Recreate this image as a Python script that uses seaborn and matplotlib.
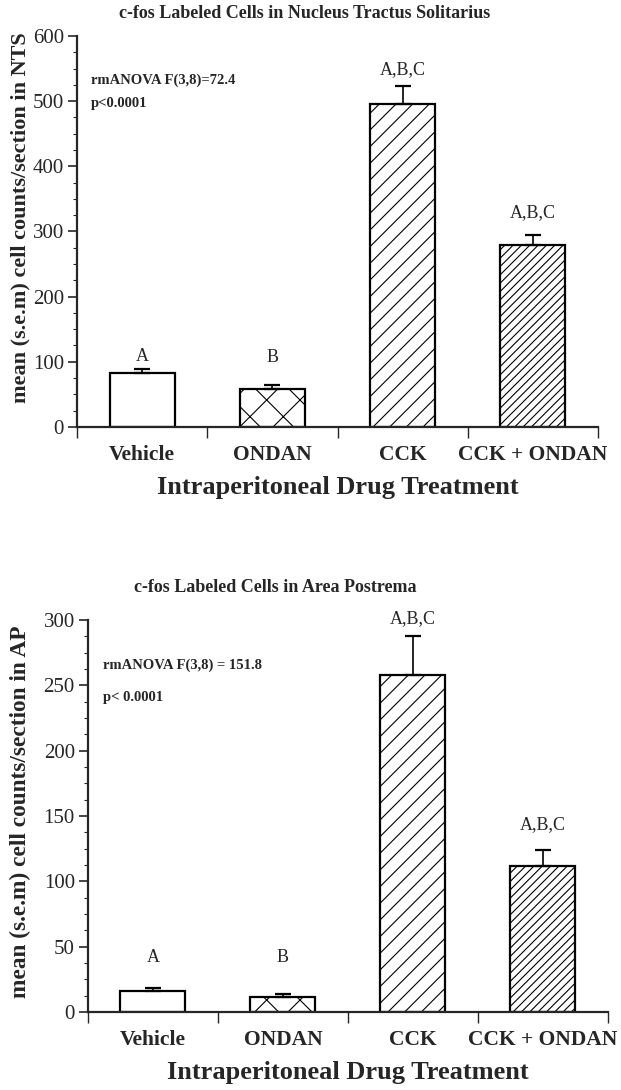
import numpy as np
import pandas as pd
import matplotlib
matplotlib.use("Agg")
import matplotlib.pyplot as plt
import seaborn as sns

# datos
treatments = ["Vehicle", "ONDAN", "CCK", "CCK + ONDAN"]
nts_mean = [83, 58, 496, 279]
nts_sem = [6, 6, 27, 16]
ap_mean = [16, 11.5, 258, 112]
ap_sem = [2.5, 2.5, 30, 12]
letters = ["A", "B", "A,B,C", "A,B,C"]
hatches = ["", "x", "//", "////"]

sns.set_theme(style="ticks")
plt.rcParams["font.family"] = ["Liberation Serif", "DejaVu Serif"]
plt.rcParams["hatch.linewidth"] = 0.8
plt.rcParams["hatch.color"] = "black"


def panel(ax, means, sems, ymax, major, minor, pads, ylabel, ysize):
    df = pd.DataFrame({"treat": treatments, "mean": means})
    sns.barplot(data=df, x="treat", y="mean", ax=ax, width=0.5, color="white",
                edgecolor="black", linewidth=1.6, errorbar=None, saturation=1)
    for bar, h in zip(ax.patches, hatches):
        bar.set_hatch(h)
        bar.set_facecolor("white")
    # solo la mitad superior del error
    ax.errorbar(range(4), means, yerr=[np.zeros(4), sems], fmt="none",
                ecolor="black", elinewidth=1.2, capsize=6, capthick=1.6)
    for i, (m, s, lab) in enumerate(zip(means, sems, letters)):
        ax.annotate(lab, (i, m + s), xytext=(0, pads[i]), textcoords="offset points",
                    ha="center", va="bottom", fontsize=13)

    ax.set_xlim(-0.5, 3.5)
    ax.set_ylim(0, ymax)
    ax.set_yticks(np.arange(0, ymax + 1, major))
    ax.set_yticks(np.arange(0, ymax + 1, minor), minor=True)
    ax.tick_params(axis="y", which="major", length=6.5, width=1.2, labelsize=15, pad=3)
    ax.tick_params(axis="y", which="minor", length=3, width=0.8)

    ax.set_xticks(np.arange(-0.5, 4, 1))
    ax.set_xticklabels([])
    ax.set_xticks(range(4), labels=treatments, minor=True)
    ax.tick_params(axis="x", which="major", length=8, width=1.0, direction="out")
    ax.tick_params(axis="x", which="minor", length=0, pad=13)
    for t in ax.get_xticklabels(minor=True):
        t.set_fontweight("bold")
        t.set_fontsize(15.5)

    sns.despine(ax=ax)
    ax.spines["left"].set_linewidth(1.6)
    ax.spines["bottom"].set_linewidth(1.6)
    ax.set_xlabel("Intraperitoneal Drug Treatment", fontsize=19, fontweight="bold")
    ax.xaxis.set_label_coords(0.5, -0.125)
    ax.set_ylabel(ylabel, fontsize=ysize, fontweight="bold")


fig = plt.figure(figsize=(6.21, 10.9), dpi=100)
ax1 = fig.add_axes([0.124, 0.6083, 0.839, 0.3587])
ax2 = fig.add_axes([0.1417, 0.0716, 0.837, 0.3596])

panel(ax1, nts_mean, nts_sem, 600, 100, 25, [3, 14, 6, 10],
      "mean (s.e.m) cell counts/section in NTS", 16)
ax1.yaxis.set_label_coords(-0.09, 0.535)

panel(ax2, ap_mean, ap_sem, 300, 50, 12.5, [16, 20, 6, 12],
      "mean (s.e.m) cell counts/section in AP", 16.8)
ax2.yaxis.set_label_coords(-0.11, 0.51)

fig.text(305 / 621, 1 - 14 / 1090, "c-fos Labeled Cells in Nucleus Tractus Solitarius",
         ha="center", va="center", fontsize=13, fontweight="bold")
fig.text(275 / 621, 1 - 588 / 1090, "c-fos Labeled Cells in Area Postrema",
         ha="center", va="center", fontsize=13, fontweight="bold")

fig.text(91 / 621, 1 - 80 / 1090, "rmANOVA F(3,8)=72.4", ha="left", va="center",
         fontsize=10.5, fontweight="bold")
fig.text(91 / 621, 1 - 103 / 1090, "p<0.0001", ha="left", va="center",
         fontsize=10.5, fontweight="bold")
fig.text(103 / 621, 1 - 665 / 1090, "rmANOVA F(3,8) = 151.8", ha="left", va="center",
         fontsize=10.5, fontweight="bold")
fig.text(103 / 621, 1 - 697 / 1090, "p< 0.0001", ha="left", va="center",
         fontsize=10.5, fontweight="bold")

fig.savefig("out.png", dpi=100, facecolor="white")
